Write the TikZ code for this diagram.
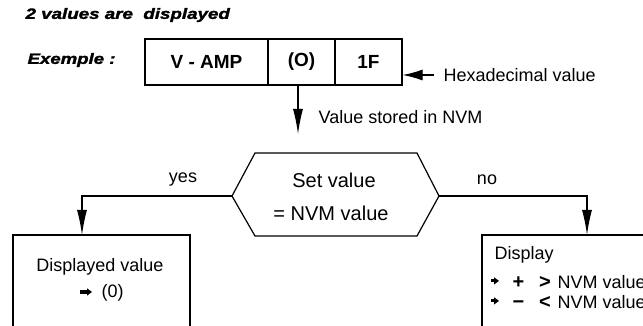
\documentclass[tikz,border=0pt]{standalone}
\usepackage{fontspec}
\setmainfont{Liberation Sans}
\newfontfamily\headfont{Liberation Sans}[FakeBold=1.6]
\usetikzlibrary{arrows.meta}

% small thick pointer used as a bullet in the result boxes
\newcommand{\pointer}[1]{\tikz[baseline=-0.6ex,x=1pt,y=1pt]\draw[line width=3.2pt,-{Triangle[length=5pt,width=7pt]}] (0,0)--(#1,0);}

\begin{document}
\begin{tikzpicture}[x=1pt,y=-1pt,line width=1.2pt,
  txt/.style={font=\fontsize{18}{21}\selectfont,inner sep=0pt},
  sym/.style={font=\fontsize{20}{22}\selectfont\bfseries,inner sep=0pt,text height=13pt,text depth=0pt},
  big/.style={font=\fontsize{20}{24}\selectfont,inner sep=0pt},
  head/.style={font=\fontsize{15}{18}\headfont\bfseries\itshape,inner sep=0pt},
  cell/.style={draw,minimum height=46pt,inner sep=0pt,font=\fontsize{19}{22}\selectfont\bfseries},
  arr/.style={-{Latex[length=25pt,width=10pt]}},
  harr/.style={-{Latex[length=20pt,width=11pt]}}]
\clip (0,0) rectangle (643,326);

% headings
\node[head,anchor=west] (title) at (25,15) {\scalebox{1.25}[1]{2 values are\ \ displayed}};
\node[head,anchor=west] (ex) at (27,60) {\scalebox{1.24}[1]{Exemple :}};

% displayed value fields
\node[cell,minimum width=123pt] (amp) at (206.5,62) {V - AMP};
\node[cell,minimum width=67pt] (par) at (301.5,62) {(O)};
\node[cell,minimum width=67pt] (hexv) at (368.5,62) {1F};

\node[txt,anchor=west] (hexlab) at (443,75) {Hexadecimal value};
\draw[harr] ([xshift=-9pt]hexlab.west) -- (hexlab.west -| hexv.east);

% value taken from NVM
\coordinate (dtop) at ([xshift=-3.5pt]par.south);
\coordinate (dtip) at (298,134);
\draw[arr] (dtop) -- (dtip);
\node[txt,anchor=west] (nvmlab) at (318,117) {Value stored in NVM};

% decision
\coordinate (hL) at (232,196);
\coordinate (hTL) at (255,153);
\coordinate (hTR) at (417,153);
\coordinate (hR) at (439,196);
\coordinate (hBR) at (417,236);
\coordinate (hBL) at (255,236);
\draw (hL) -- (hTL) -- (hTR) -- (hR) -- (hBR) -- (hBL) -- cycle;
\node[big] (set) at (334,180) {Set value};
\node[big] (eq) at (331,213) {= NVM value};

% branches
\coordinate (ytip) at (82,235);
\coordinate (ntip) at (587,235);
\draw[arr] (hL) -| (ytip);
\draw[arr] (hR) -| (ntip);
\node[txt] (yes) at (183,180) {yes};
\node[txt] (no) at (487,180) {no};

% result boxes
\draw (13,330) -- (13,235) -- (190,235) -- (190,330);
\draw (482,330) -- (482,235) -- (650,235);

\node[txt] (disp) at (100,267) {Displayed value};
\node[txt] (zero) at (101,293) {\pointer{12}\hspace{8pt}(0)};

\node[txt,anchor=west] (dsp) at (494,255) {Display};
\node[txt] (b1) at (495,282) {\pointer{8}};
\node[sym] (plus) at (518.5,282) {+};
\node[sym] (gt) at (545,282) {>};
\node[txt,anchor=west] (v1) at (557,282) {NVM value};
\node[txt] (b2) at (495,302) {\pointer{8}};
\node[sym] (minus) at (518.5,302) {\char"2212};
\node[sym] (lt) at (545,302) {<};
\node[txt,anchor=west] (v2) at (557,302) {NVM value};
\end{tikzpicture}
\end{document}
